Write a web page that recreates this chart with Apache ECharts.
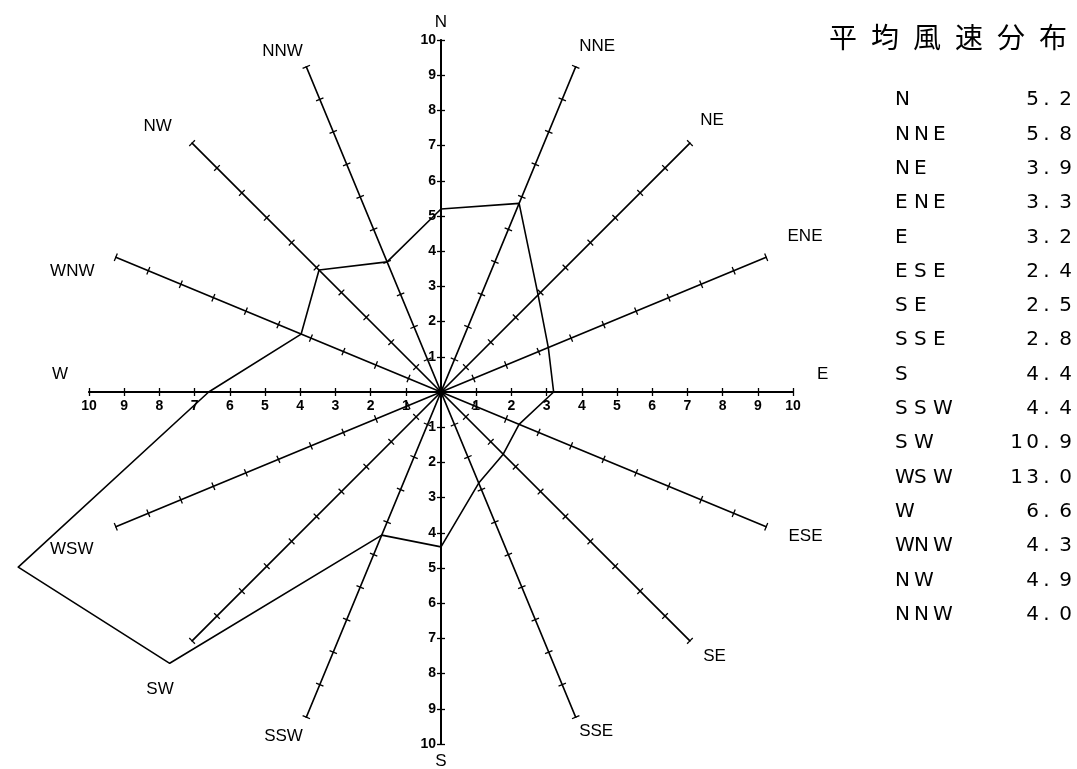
<!DOCTYPE html>
<html>
<head>
<meta charset="utf-8">
<script src="https://cdn.jsdelivr.net/npm/echarts@6/dist/echarts.min.js"></script>
<style>
  html, body {margin: 0; padding: 0; background: #fff;}
  #main {width: 1077px; height: 769px;}
</style>
</head>
<body>
<div id="main"></div>
<script>
// compass directions, clockwise from N
const directions = ['N', 'NNE', 'NE', 'ENE', 'E', 'ESE', 'SE', 'SSE', 'S', 'SSW', 'SW', 'WSW', 'W', 'WNW', 'NW', 'NNW'];
// mean wind speed per direction
const speeds = [5.2, 5.8, 3.9, 3.3, 3.2, 2.4, 2.5, 2.8, 4.4, 4.4, 10.9, 13.0, 6.6, 4.3, 4.9, 4.0];
const axisMax = 10;
const titleText = '平均風速分布';

const cx = 441, cy = 392, R = 352;

// extra padding [top, right, bottom, left] nudging the spoke names like the plot
const namePad = {
    N: [0, 0, 0, 0], NNE: [0, 0, 24, 0], NE: [0, 0, 32, 4], ENE: [0, 0, 36, 13],
    E: [0, 0, 36, 15], ESE: [12, 0, 0, 14], SE: [18, 0, 0, 7], SSE: [12, 0, 0, 0],
    S: [0, 0, 0, 0], SSW: [22, 0, 0, 0], SW: [84, 12, 0, 0], WSW: [38, 14, 0, 0],
    W: [0, 12, 36, 0], WNW: [34, 13, 0, 0], NW: [0, 14, 20, 0], NNW: [0, 0, 14, 0]
};

// echarts radar goes counter-clockwise, so walk the compass backwards
const order = directions.map((d, i) => (directions.length - i) % directions.length);
const indicator = order.map(i => ({name: directions[i], min: 0, max: axisMax}));
const radarValues = order.map(i => speeds[i]);

const absLabel = v => v === 0 ? '' : String(Math.abs(v));

// plotter-like fixed pitch for the table, one rich token per glyph
const nameLine = n => n.split('').map(c => '{ch|' + c + '}').join('');
const valueLine = v => {
    const parts = v.toFixed(1).split('.');
    return parts[0].split('').map(d => d === '1' ? '{one|1}' : '{dig|' + d + '}').join('')
        + '{dot|. }' + '{dig|' + parts[1] + '}';
};

const tableFont = {fontFamily: 'DejaVu Sans', fontSize: 20, fontWeight: 'normal', color: '#000', lineHeight: 34.3};

const nameRich = {};
directions.forEach(d => {
    nameRich[d] = {fontSize: 17, color: '#000', padding: namePad[d]};
});

const baseRadar = {
    center: [cx, cy],
    radius: R,
    startAngle: 90,
    splitNumber: 10,
    shape: 'polygon',
    indicator: indicator,
    splitLine: {show: false},
    splitArea: {show: false},
    axisLabel: {show: false}
};

const tickLabel = {formatter: absLabel, color: '#000', fontSize: 14, fontWeight: 'bold',
    showMinLabel: true, showMaxLabel: true, hideOverlap: false};

const chart = echarts.init(document.getElementById('main'));
chart.setOption({
    backgroundColor: '#fff',
    animation: false,
    textStyle: {fontFamily: 'Liberation Sans, DejaVu Sans, sans-serif', color: '#000'},
    title: [
        {
            text: titleText.split('').map(c => '{c|' + c + '}').join(''),
            left: 817, top: 18,
            textStyle: {
                rich: {c: {fontSize: 28, fontWeight: 'normal', fontFamily: 'Noto Sans CJK JP', color: '#000', padding: [0, 7, 0, 7]}}
            }
        },
        {
            text: directions.map(nameLine).join('\n'),
            left: 890, top: 78,
            textStyle: {rich: {ch: Object.assign({width: 19}, tableFont)}}
        },
        {
            text: speeds.map(valueLine).join('\n'),
            left: 1067, top: 78, textAlign: 'right',
            textStyle: {
                align: 'right',
                rich: {
                    dig: Object.assign({width: 16, align: 'right'}, tableFont),
                    one: Object.assign({width: 9, align: 'right'}, tableFont),
                    dot: Object.assign({width: 17, align: 'right'}, tableFont)
                }
            }
        }
    ],
    radar: [
        Object.assign({}, baseRadar, {
            nameGap: 9,
            axisName: {
                color: '#000', fontSize: 17,
                formatter: name => '{' + name + '|' + name + '}',
                rich: nameRich
            },
            axisLine: {lineStyle: {color: '#000', width: 1.7}},
            axisTick: {show: true, length: 4, lineStyle: {color: '#000', width: 1.3}}
        }),
        Object.assign({}, baseRadar, {
            axisName: {show: false},
            axisLine: {show: false},
            axisTick: {show: true, length: -4, lineStyle: {color: '#000', width: 1.3}}
        })
    ],
    grid: {left: cx - R, top: cy - R, width: 2 * R, height: 2 * R},
    xAxis: {
        type: 'value', min: -axisMax, max: axisMax, interval: 1,
        position: 'bottom', offset: -R,
        axisLine: {onZero: false, lineStyle: {color: '#000', width: 2}},
        axisTick: {show: false},
        splitLine: {show: false},
        axisLabel: Object.assign({margin: 7}, tickLabel)
    },
    yAxis: {
        type: 'value', min: -axisMax, max: axisMax, interval: 1, inverse: true,
        position: 'left', offset: -R,
        axisLine: {onZero: false, lineStyle: {color: '#000', width: 2}},
        axisTick: {show: false},
        splitLine: {show: false},
        axisLabel: Object.assign({margin: 5}, tickLabel)
    },
    series: [{
        type: 'radar',
        radarIndex: 0,
        symbol: 'none',
        z: 5,
        lineStyle: {color: '#000', width: 1.6},
        data: [{value: radarValues}]
    }]
});
</script>
</body>
</html>
